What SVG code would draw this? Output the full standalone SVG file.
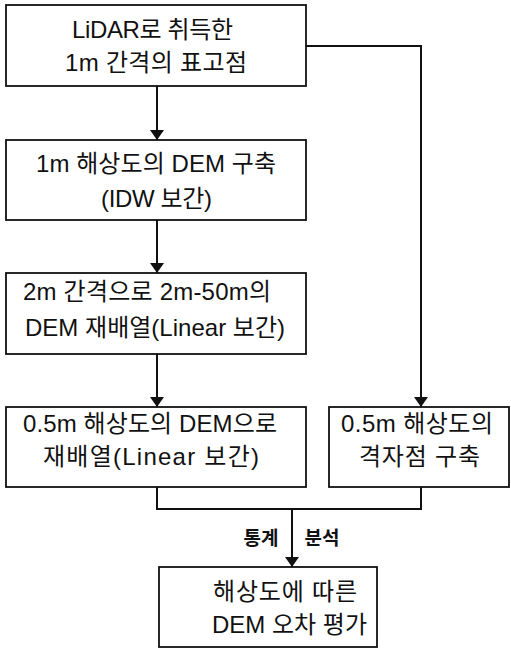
<svg xmlns="http://www.w3.org/2000/svg" width="511" height="649" viewBox="0 0 511 649">
<style>
.box{fill:#fff;stroke:#111;stroke-width:1.8}
.t{font-family:"Liberation Sans","Noto Sans CJK KR",sans-serif;font-size:24px;fill:#111}
.lb{font-family:"Noto Sans CJK KR",sans-serif;font-size:19px;font-weight:bold;fill:#111;text-anchor:middle}
.c{fill:none;stroke:#111;stroke-width:2}
</style>
<defs>
<marker id="ah" markerWidth="10" markerHeight="14" refX="10" refY="7" orient="auto" markerUnits="userSpaceOnUse" viewBox="0 0 10 14">
<path d="M0,0 L10,7 L0,14 Z" fill="#111"/>
</marker>
</defs>
<rect width="511" height="649" fill="#fff"/>
<g id="connectors">
<line class="c" x1="157" y1="86" x2="157" y2="140" marker-end="url(#ah)"/>
<line class="c" x1="157" y1="220" x2="157" y2="273" marker-end="url(#ah)"/>
<line class="c" x1="157" y1="354" x2="157" y2="407" marker-end="url(#ah)"/>
<polyline class="c" points="306,46 421,46 421,407" marker-end="url(#ah)"/>
<polyline class="c" points="157,487 157,509 421,509 421,487"/>
<line class="c" x1="292" y1="509" x2="292" y2="567" marker-end="url(#ah)"/>
<text class="lb" x="261" y="545">통계</text>
<text class="lb" x="322" y="545">분석</text>
</g>
<g id="n1">
<rect class="box" x="6" y="5" width="300" height="81"/>
<text class="t" x="72" y="38" textLength="161" lengthAdjust="spacing">LiDAR로 취득한</text>
<text class="t" x="65" y="71" textLength="182" lengthAdjust="spacing">1m 간격의 표고점</text>
</g>
<g id="n2">
<rect class="box" x="6" y="140" width="300" height="80"/>
<text class="t" x="36" y="172" textLength="240" lengthAdjust="spacing">1m 해상도의 DEM 구축</text>
<text class="t" x="101" y="207" textLength="111" lengthAdjust="spacing">(IDW 보간)</text>
</g>
<g id="n3">
<rect class="box" x="6" y="273" width="300" height="81"/>
<text class="t" x="23" y="300" textLength="248" lengthAdjust="spacing">2m 간격으로 2m-50m의</text>
<text class="t" x="25" y="336" textLength="260" lengthAdjust="spacing">DEM 재배열(Linear 보간)</text>
</g>
<g id="n4">
<rect class="box" x="6" y="407" width="300" height="80"/>
<text class="t" x="23" y="432" textLength="254" lengthAdjust="spacing">0.5m 해상도의 DEM으로</text>
<text class="t" x="43" y="465" textLength="216" lengthAdjust="spacing">재배열(Linear 보간)</text>
</g>
<g id="n5">
<rect class="box" x="329" y="407" width="180" height="80"/>
<text class="t" x="341" y="432" textLength="152" lengthAdjust="spacing">0.5m 해상도의</text>
<text class="t" x="359" y="465" textLength="121" lengthAdjust="spacing">격자점 구축</text>
</g>
<g id="n6">
<rect class="box" x="159" y="567" width="218" height="80"/>
<text class="t" x="213" y="600" textLength="144" lengthAdjust="spacing">해상도에 따른</text>
<text class="t" x="212" y="633" textLength="155" lengthAdjust="spacing">DEM 오차 평가</text>
</g>
</svg>
